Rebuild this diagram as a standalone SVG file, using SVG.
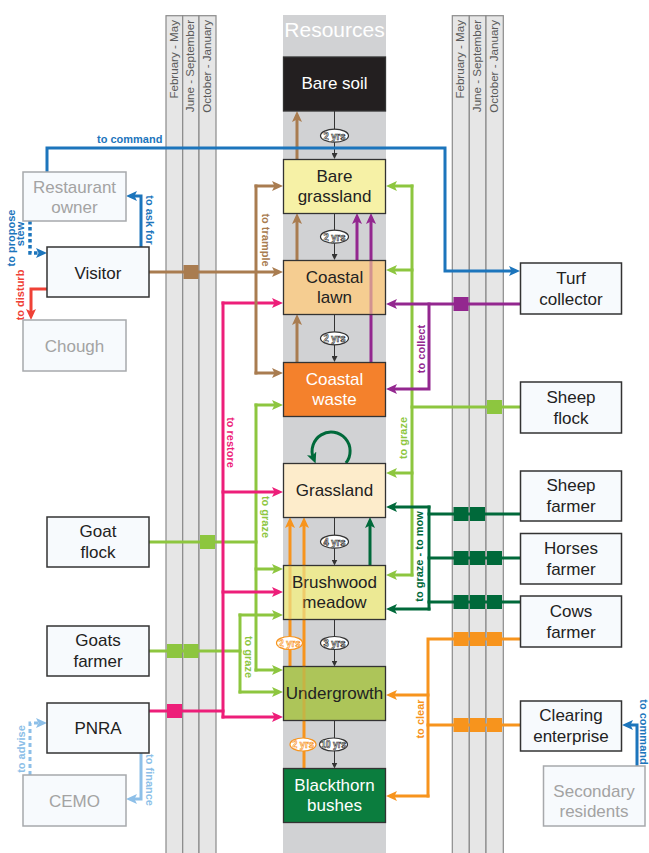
<svg xmlns="http://www.w3.org/2000/svg" width="649" height="853" viewBox="0 0 649 853">
<defs>
<style>
text{font-family:"Liberation Sans",Arial,sans-serif}
.season{fill:#e6e6e6;stroke:#8a8a8a;stroke-width:1.2}
.slab{font-size:11.6px;fill:#5a5a5a;text-anchor:end}
.actor rect{fill:#f7fafd;stroke:#333;stroke-width:1.5}
.actor text{font-size:17px;fill:#222;text-anchor:middle}
.ghost rect{fill:#f7fafd;stroke:#a7a9ac;stroke-width:1.5}
.ghost text{font-size:17px;fill:#a3a3a3;text-anchor:middle}
.res rect{stroke:#333;stroke-width:1.3}
.res text{font-size:17px;fill:#222;text-anchor:middle}
.res text.w{fill:#fff}
.c{fill:none;stroke-width:3;stroke-linecap:square}
.lbl{font-size:11px;font-weight:bold;text-anchor:middle}
.thin{fill:none;stroke:#333;stroke-width:1}
.yrs ellipse{fill:#fff;stroke:#333;stroke-width:1.2}
.yrs text{font-size:10.5px;font-weight:bold;text-anchor:middle;fill:#fff;stroke:#333;stroke-width:0.7}
.oyrs ellipse{fill:#fff;stroke:#f7941d;stroke-width:1.2}
.oyrs text{font-size:10.5px;font-weight:bold;text-anchor:middle;fill:#fff;stroke:#f7941d;stroke-width:0.7}
.sq{stroke:none}
</style>
<marker id="mBr" markerUnits="userSpaceOnUse" markerWidth="12" markerHeight="10" refX="5" refY="5" orient="auto"><path d="M0,0L11,5L0,10L2.5,5Z" fill="#a97c50"/></marker>
<marker id="mPu" markerUnits="userSpaceOnUse" markerWidth="12" markerHeight="10" refX="5" refY="5" orient="auto"><path d="M0,0L11,5L0,10L2.5,5Z" fill="#93278f"/></marker>
<marker id="mG" markerUnits="userSpaceOnUse" markerWidth="12" markerHeight="10" refX="5" refY="5" orient="auto"><path d="M0,0L11,5L0,10L2.5,5Z" fill="#8dc63f"/></marker>
<marker id="mDG" markerUnits="userSpaceOnUse" markerWidth="12" markerHeight="10" refX="5" refY="5" orient="auto"><path d="M0,0L11,5L0,10L2.5,5Z" fill="#00693a"/></marker>
<marker id="mO" markerUnits="userSpaceOnUse" markerWidth="12" markerHeight="10" refX="5" refY="5" orient="auto"><path d="M0,0L11,5L0,10L2.5,5Z" fill="#f7941d"/></marker>
<marker id="mP" markerUnits="userSpaceOnUse" markerWidth="12" markerHeight="10" refX="5" refY="5" orient="auto"><path d="M0,0L11,5L0,10L2.5,5Z" fill="#ed1e79"/></marker>
<marker id="mBl" markerUnits="userSpaceOnUse" markerWidth="12" markerHeight="10" refX="5" refY="5" orient="auto"><path d="M0,0L11,5L0,10L2.5,5Z" fill="#1c75bc"/></marker>
<marker id="mLB" markerUnits="userSpaceOnUse" markerWidth="12" markerHeight="10" refX="5" refY="5" orient="auto"><path d="M0,0L11,5L0,10L2.5,5Z" fill="#8dbfe8"/></marker>
<marker id="mR" markerUnits="userSpaceOnUse" markerWidth="12" markerHeight="10" refX="5" refY="5" orient="auto"><path d="M0,0L11,5L0,10L2.5,5Z" fill="#ef4136"/></marker>
<marker id="mK" markerUnits="userSpaceOnUse" markerWidth="7" markerHeight="6" refX="3" refY="3" orient="auto"><path d="M0,0L6,3L0,6Z" fill="#333"/></marker>
</defs>
<rect width="649" height="853" fill="#fff"/>

<g id="seasons-left">
<rect class="season" x="166" y="15.7" width="16.7" height="840"/>
<rect class="season" x="182.7" y="15.7" width="16.3" height="840"/>
<rect class="season" x="199" y="15.7" width="17" height="840"/>
<text class="slab" transform="translate(177.5,20) rotate(-90)">February - May</text>
<text class="slab" transform="translate(194,20) rotate(-90)">June - September</text>
<text class="slab" transform="translate(210.5,20) rotate(-90)">October - January</text>
</g>
<g id="seasons-right">
<rect class="season" x="452.3" y="15.7" width="17" height="840"/>
<rect class="season" x="469.3" y="15.7" width="16.7" height="840"/>
<rect class="season" x="486" y="15.7" width="17.3" height="840"/>
<text class="slab" transform="translate(463.5,20) rotate(-90)">February - May</text>
<text class="slab" transform="translate(480.5,20) rotate(-90)">June - September</text>
<text class="slab" transform="translate(497.5,20) rotate(-90)">October - January</text>
</g>
<g id="resources-column">
<rect x="283" y="15" width="103" height="840" fill="#d1d2d4"/>
<text x="334.5" y="37" font-size="21" fill="#fff" text-anchor="middle">Resources</text>
</g>

<g id="connectors">
<path class="thin" d="M334.5,111V156" marker-end="url(#mK)"/>
<path class="thin" d="M334.5,213V257" marker-end="url(#mK)"/>
<path class="thin" d="M334.5,314V359" marker-end="url(#mK)"/>
<path class="thin" d="M334.5,517V562.5" marker-end="url(#mK)"/>
<path class="thin" d="M334.5,619V663.5" marker-end="url(#mK)"/>
<path class="thin" d="M334.5,720V765.5" marker-end="url(#mK)"/>

<path class="c" stroke="#8dc63f" d="M256,405V670"/>
<path class="c" stroke="#8dc63f" d="M256,405H277" marker-end="url(#mG)"/>
<path class="c" stroke="#8dc63f" d="M256,569H277" marker-end="url(#mG)"/>
<path class="c" stroke="#8dc63f" d="M256,670H277" marker-end="url(#mG)"/>
<path class="c" stroke="#8dc63f" d="M149,542H256"/>
<path class="c" stroke="#8dc63f" d="M240,615V692"/>
<path class="c" stroke="#8dc63f" d="M240,615H277" marker-end="url(#mG)"/>
<path class="c" stroke="#8dc63f" d="M240,692H277" marker-end="url(#mG)"/>
<path class="c" stroke="#8dc63f" d="M149,651H240"/>

<path class="c" stroke="#ed1e79" d="M149,711H223"/>
<path class="c" stroke="#ed1e79" d="M223,303V717"/>
<path class="c" stroke="#ed1e79" d="M223,303H277" marker-end="url(#mP)"/>
<path class="c" stroke="#ed1e79" d="M223,492H277" marker-end="url(#mP)"/>
<path class="c" stroke="#ed1e79" d="M223,592H277" marker-end="url(#mP)"/>
<path class="c" stroke="#ed1e79" d="M223,717H277" marker-end="url(#mP)"/>

<path class="c" stroke="#a97c50" d="M149,272H277" marker-end="url(#mBr)"/>
<path class="c" stroke="#a97c50" d="M256,186V373"/>
<path class="c" stroke="#a97c50" d="M256,186H277" marker-end="url(#mBr)"/>
<path class="c" stroke="#a97c50" d="M256,373H277" marker-end="url(#mBr)"/>
<path class="c" stroke="#a97c50" d="M297,159V117" marker-end="url(#mBr)"/>
<path class="c" stroke="#a97c50" d="M297,260V219" marker-end="url(#mBr)"/>
<path class="c" stroke="#a97c50" d="M297,362V320" marker-end="url(#mBr)"/>

<path class="c" stroke="#8dc63f" d="M412,186V575"/>
<path class="c" stroke="#8dc63f" d="M412,186H392" marker-end="url(#mG)"/>
<path class="c" stroke="#8dc63f" d="M412,270H392" marker-end="url(#mG)"/>
<path class="c" stroke="#8dc63f" d="M412,473H392" marker-end="url(#mG)"/>
<path class="c" stroke="#8dc63f" d="M412,575H392" marker-end="url(#mG)"/>
<path class="c" stroke="#8dc63f" d="M520,407H412"/>

<path class="c" stroke="#93278f" d="M520,304H392" marker-end="url(#mPu)"/>
<path class="c" stroke="#93278f" d="M429,304V389H392" marker-end="url(#mPu)"/>
<path class="c" stroke="#93278f" d="M357,260V219" marker-end="url(#mPu)"/>
<path class="c" stroke="#93278f" d="M371,362V219" marker-end="url(#mPu)"/>

<path class="c" stroke="#00693a" d="M429,507V609"/>
<path class="c" stroke="#00693a" d="M429,507H392" marker-end="url(#mDG)"/>
<path class="c" stroke="#00693a" d="M429,609H392" marker-end="url(#mDG)"/>
<path class="c" stroke="#00693a" d="M520,514H429"/>
<path class="c" stroke="#00693a" d="M520,558H429"/>
<path class="c" stroke="#00693a" d="M520,602H429"/>
<path class="c" stroke="#00693a" d="M370,565V523" marker-end="url(#mDG)"/>
<path fill="none" stroke="#00693a" stroke-width="3" d="M345.9,463A19,19 0 1 0 313.4,458" marker-end="url(#mDG)"/>

<path class="c" stroke="#f7941d" d="M520,639H428V796"/>
<path class="c" stroke="#f7941d" d="M520,725H428"/>
<path class="c" stroke="#f7941d" d="M428,695H392" marker-end="url(#mO)"/>
<path class="c" stroke="#f7941d" d="M428,796H392" marker-end="url(#mO)"/>
<path class="c" stroke="#f7941d" d="M290,666V523" marker-end="url(#mO)"/>
<path class="c" stroke="#f7941d" d="M304,768V523" marker-end="url(#mO)"/>

<path class="c" stroke="#1c75bc" stroke-linecap="butt" d="M47,172V148H445V271H514" marker-end="url(#mBl)"/>
<path class="c" stroke="#1c75bc" stroke-linecap="butt" d="M141,247V196H132" marker-end="url(#mBl)"/>
<path fill="none" stroke="#1c75bc" stroke-width="3.5" stroke-dasharray="3.5,2.5" d="M30,221V253H41" marker-end="url(#mBl)"/>
<path class="c" stroke="#1c75bc" stroke-linecap="butt" d="M637,766V725H628" marker-end="url(#mBl)"/>

<path class="c" stroke="#ef4136" stroke-linecap="butt" d="M47,289H31V314" marker-end="url(#mR)"/>

<path fill="none" stroke="#8dbfe8" stroke-width="3" stroke-dasharray="4,3" d="M30,775V723H41" marker-end="url(#mLB)"/>
<path class="c" stroke="#8dbfe8" stroke-linecap="butt" d="M141,753V799H132" marker-end="url(#mLB)"/>

<rect class="sq" fill="#a97c50" x="183.5" y="265" width="15" height="14"/>
<rect class="sq" fill="#8dc63f" x="200" y="535" width="15" height="14"/>
<rect class="sq" fill="#8dc63f" x="167" y="644" width="15" height="14"/>
<rect class="sq" fill="#8dc63f" x="183.5" y="644" width="15" height="14"/>
<rect class="sq" fill="#ed1e79" x="167" y="704" width="15" height="14"/>
<rect class="sq" fill="#93278f" x="453.5" y="297" width="15" height="14"/>
<rect class="sq" fill="#8dc63f" x="487" y="400" width="15" height="14"/>
<rect class="sq" fill="#00693a" x="453.5" y="507" width="15" height="14"/>
<rect class="sq" fill="#00693a" x="470" y="507" width="15" height="14"/>
<rect class="sq" fill="#00693a" x="453.5" y="551" width="15" height="14"/>
<rect class="sq" fill="#00693a" x="470" y="551" width="15" height="14"/>
<rect class="sq" fill="#00693a" x="487" y="551" width="15" height="14"/>
<rect class="sq" fill="#00693a" x="453.5" y="595" width="15" height="14"/>
<rect class="sq" fill="#00693a" x="470" y="595" width="15" height="14"/>
<rect class="sq" fill="#00693a" x="487" y="595" width="15" height="14"/>
<rect class="sq" fill="#f7941d" x="453.5" y="632" width="15" height="14"/>
<rect class="sq" fill="#f7941d" x="470" y="632" width="15" height="14"/>
<rect class="sq" fill="#f7941d" x="487" y="632" width="15" height="14"/>
<rect class="sq" fill="#f7941d" x="453.5" y="718" width="15" height="14"/>
<rect class="sq" fill="#f7941d" x="470" y="718" width="15" height="14"/>
<rect class="sq" fill="#f7941d" x="487" y="718" width="15" height="14"/>

<text class="lbl" fill="#1c75bc" x="97" y="143" style="text-anchor:start">to command</text>
<text class="lbl" fill="#1c75bc" transform="translate(146,220) rotate(90)">to ask for</text>
<text class="lbl" fill="#1c75bc" font-size="10.5" transform="translate(15,238) rotate(-90)">to propose</text>
<text class="lbl" fill="#1c75bc" font-size="10.5" transform="translate(23.5,234) rotate(-90)">stew</text>
<text class="lbl" fill="#ef4136" transform="translate(23.7,295) rotate(-90)">to disturb</text>
<text class="lbl" fill="#a97c50" transform="translate(262,240) rotate(90)">to trample</text>
<text class="lbl" fill="#ed1e79" transform="translate(227,442.5) rotate(90)">to restore</text>
<text class="lbl" fill="#8dc63f" transform="translate(261.5,517) rotate(90)">to graze</text>
<text class="lbl" fill="#8dc63f" transform="translate(244.5,657) rotate(90)">to graze</text>
<text class="lbl" fill="#8dbfe8" transform="translate(25,749) rotate(-90)">to advise</text>
<text class="lbl" fill="#8dbfe8" transform="translate(146,780) rotate(90)">to finance</text>
<text class="lbl" fill="#93278f" transform="translate(424.5,349) rotate(-90)">to collect</text>
<text class="lbl" fill="#8dc63f" transform="translate(407,438) rotate(-90)">to graze</text>
<text class="lbl" fill="#00693a" transform="translate(423,556.5) rotate(-90)">to graze - to mow</text>
<text class="lbl" fill="#f7941d" transform="translate(424,719) rotate(-90)">to clear</text>
<text class="lbl" fill="#1c75bc" font-size="10.5" transform="translate(639.5,732) rotate(90)">to command</text>
</g>

<g id="bare-soil" class="res"><rect x="283.5" y="57" width="102" height="54" fill="#231f20"/><text class="w" x="334.5" y="89">Bare soil</text></g>
<g id="bare-grassland" class="res"><rect x="283.5" y="159.5" width="102" height="54" fill="#f6f1a6"/><text x="334.5" y="182">Bare</text><text x="334.5" y="202">grassland</text></g>
<g id="coastal-lawn" class="res"><rect x="283.5" y="260.5" width="102" height="54" fill="#f5cd91"/><text x="334.5" y="282.5">Coastal</text><text x="334.5" y="303">lawn</text></g>
<g id="coastal-waste" class="res"><rect x="283.5" y="362.5" width="102" height="54" fill="#f4812c"/><text class="w" x="334.5" y="384.5">Coastal</text><text class="w" x="334.5" y="405">waste</text></g>
<g id="grassland" class="res"><rect x="283.5" y="463.5" width="102" height="54" fill="#fdeccb"/><text x="334.5" y="496">Grassland</text></g>
<g id="brushwood-meadow" class="res"><rect x="283.5" y="565.5" width="102" height="54" fill="#ece994"/><text x="334.5" y="587.5">Brushwood</text><text x="334.5" y="608">meadow</text></g>
<g id="undergrowth" class="res"><rect x="283.5" y="666.5" width="102" height="54" fill="#adc559"/><text x="334.5" y="698.5">Undergrowth</text></g>
<g id="blackthorn-bushes" class="res"><rect x="283.5" y="768.5" width="102" height="54" fill="#0b7d3e"/><text class="w" x="334.5" y="790.5">Blackthorn</text><text class="w" x="334.5" y="811">bushes</text></g>

<g id="see-through" opacity="0.35">
<path stroke="#93278f" stroke-width="3" d="M371,260.5V314.5"/>
<path stroke="#f7941d" stroke-width="3" d="M290,565.5V619.5"/>
<path stroke="#f7941d" stroke-width="3" d="M304,565.5V619.5M304,666.5V720.5"/>
</g>

<g id="durations">
<g class="yrs"><ellipse cx="334.5" cy="135.7" rx="14" ry="6.5"/><text x="334.5" y="139.5" textLength="22" lengthAdjust="spacingAndGlyphs">2 yrs</text></g>
<g class="yrs"><ellipse cx="334.5" cy="236.7" rx="14" ry="6.5"/><text x="334.5" y="240.5" textLength="22" lengthAdjust="spacingAndGlyphs">2 yrs</text></g>
<g class="yrs"><ellipse cx="334.5" cy="338.3" rx="14" ry="6.5"/><text x="334.5" y="342.1" textLength="22" lengthAdjust="spacingAndGlyphs">2 yrs</text></g>
<g class="yrs"><ellipse cx="334.5" cy="541.7" rx="14" ry="6.5"/><text x="334.5" y="545.5" textLength="22" lengthAdjust="spacingAndGlyphs">4 yrs</text></g>
<g class="yrs"><ellipse cx="334.5" cy="643" rx="14" ry="6.5"/><text x="334.5" y="646.8" textLength="22" lengthAdjust="spacingAndGlyphs">3 yrs</text></g>
<g class="yrs"><ellipse cx="333.5" cy="744.5" rx="14" ry="6.5"/><text x="333.5" y="748.3" textLength="25" lengthAdjust="spacingAndGlyphs">10 yrs</text></g>
<g class="oyrs"><ellipse cx="289.5" cy="643" rx="13" ry="6.5"/><text x="289.5" y="646.8" textLength="22" lengthAdjust="spacingAndGlyphs">2 yrs</text></g>
<g class="oyrs"><ellipse cx="303" cy="744.5" rx="13" ry="6.5"/><text x="303" y="748.3" textLength="22" lengthAdjust="spacingAndGlyphs">2 yrs</text></g>
</g>

<g id="restaurant-owner" class="ghost"><rect x="23" y="172" width="103" height="49"/><text x="74.5" y="192.5">Restaurant</text><text x="74.5" y="213">owner</text></g>
<g id="visitor" class="actor"><rect x="47" y="247" width="102" height="50"/><text x="98" y="278.5">Visitor</text></g>
<g id="chough" class="ghost"><rect x="23" y="320" width="103" height="51"/><text x="74.5" y="351.5">Chough</text></g>
<g id="goat-flock" class="actor"><rect x="47" y="517" width="102" height="50"/><text x="98" y="537">Goat</text><text x="98" y="558">flock</text></g>
<g id="goats-farmer" class="actor"><rect x="47" y="626" width="102" height="50"/><text x="98" y="646">Goats</text><text x="98" y="667">farmer</text></g>
<g id="pnra" class="actor"><rect x="47" y="703" width="102" height="50"/><text x="98" y="734">PNRA</text></g>
<g id="cemo" class="ghost"><rect x="23" y="775" width="103" height="51"/><text x="74.5" y="806.5">CEMO</text></g>
<g id="turf-collector" class="actor"><rect x="520.5" y="263" width="101" height="51"/><text x="571" y="283.5">Turf</text><text x="571" y="304.5">collector</text></g>
<g id="sheep-flock" class="actor"><rect x="520.5" y="382" width="101" height="51"/><text x="571" y="402.5">Sheep</text><text x="571" y="423.5">flock</text></g>
<g id="sheep-farmer" class="actor"><rect x="520.5" y="471" width="101" height="50"/><text x="571" y="491">Sheep</text><text x="571" y="512">farmer</text></g>
<g id="horses-farmer" class="actor"><rect x="520.5" y="533.5" width="101" height="50.5"/><text x="571" y="553.5">Horses</text><text x="571" y="574.5">farmer</text></g>
<g id="cows-farmer" class="actor"><rect x="520.5" y="596" width="101" height="51"/><text x="571" y="616.5">Cows</text><text x="571" y="637.5">farmer</text></g>
<g id="clearing-enterprise" class="actor"><rect x="520.5" y="701" width="101" height="50"/><text x="571" y="721">Clearing</text><text x="571" y="742">enterprise</text></g>
<g id="secondary-residents" class="ghost"><rect x="543.5" y="766" width="101.5" height="60"/><text x="594" y="796.5">Secondary</text><text x="594" y="817">residents</text></g>
</svg>
